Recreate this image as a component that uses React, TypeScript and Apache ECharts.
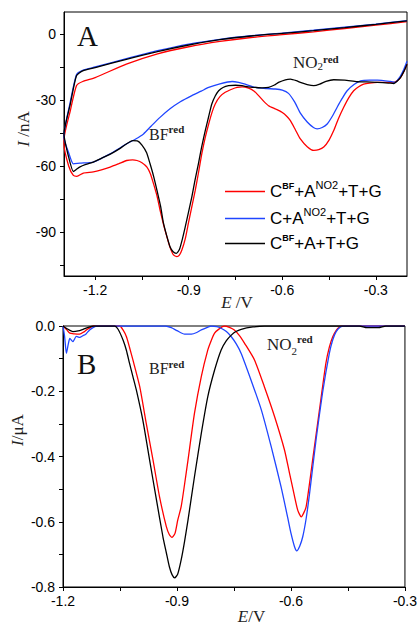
import React, { useEffect, useRef } from 'react';
import * as echarts from 'echarts';

const seriesNames = ['CBF+ANO2+T+G', 'C+ANO2+T+G', 'CBF+A+T+G'];
const seriesColors = ['#ff0000', '#1f45ff', '#000000'];

const aXLabels = [-1.2, -0.9, -0.6, -0.3];
const aXTicks = [-1.2, -1.05, -0.9, -0.75, -0.6, -0.45, -0.3];
const aYLabels = [-90, -60, -30, 0];
const aYTicks = [-105, -90, -75, -60, -45, -30, -15, 0];
const bXLabels = [-1.2, -0.9, -0.6, -0.3];
const bXTicks = [-1.2, -1.05, -0.9, -0.75, -0.6, -0.45, -0.3];
const bYLabels = [-0.8, -0.6, -0.4, -0.2, 0];
const bYTicks = [-0.8, -0.7, -0.6, -0.5, -0.4, -0.3, -0.2, -0.1, 0];

// Panel A (E / V, I / nA): scan from -0.2 to -1.3 (upper) then back (lower)
const aRed = [
  [-0.2, 5.6], [-0.3, 4.0], [-0.4, 2.5], [-0.5, 1.0], [-0.6, -0.3], [-0.7, -1.6], [-0.8, -3.4], [-0.9, -5.8],
  [-1.0, -9.0], [-1.1, -13.7], [-1.2, -19.8], [-1.24, -21.6], [-1.26, -23.5], [-1.28, -35], [-1.3, -48],
  [-1.3, -50], [-1.285, -60], [-1.27, -64.3], [-1.259, -64.7], [-1.238, -63.2], [-1.206, -62.7], [-1.18, -61.8],
  [-1.152, -60.5], [-1.125, -59], [-1.099, -57.5], [-1.08, -57.2], [-1.066, -57.5], [-1.05, -58.5], [-1.034, -60.5],
  [-1.023, -63.5], [-1.013, -68], [-1.002, -73.5], [-0.992, -80], [-0.981, -86.5], [-0.97, -92.2], [-0.96, -97],
  [-0.949, -100.4], [-0.938, -101.2], [-0.93, -100.5], [-0.922, -98.2], [-0.911, -93], [-0.901, -86], [-0.89, -78.5],
  [-0.879, -71], [-0.868, -62.5], [-0.858, -54.4], [-0.847, -47], [-0.836, -40.9], [-0.825, -35.5], [-0.815, -31.8],
  [-0.8, -28.5], [-0.783, -26.5], [-0.76, -25], [-0.745, -24.3], [-0.729, -24], [-0.708, -24.6], [-0.69, -26],
  [-0.676, -28], [-0.66, -30.5], [-0.644, -32.6], [-0.62, -34.2], [-0.601, -35.6], [-0.585, -37.5], [-0.574, -39.4],
  [-0.558, -43.5], [-0.542, -47.7], [-0.52, -51.2], [-0.499, -52.9], [-0.483, -52.6], [-0.467, -51.4], [-0.45, -48.2],
  [-0.435, -43.9], [-0.42, -38.5], [-0.403, -33.3], [-0.387, -29], [-0.371, -25.8], [-0.355, -24], [-0.339, -22.8],
  [-0.32, -22.3], [-0.295, -22], [-0.26, -22], [-0.242, -22], [-0.232, -21.3], [-0.221, -19.8], [-0.21, -17], [-0.2, -13.7],
];
const aBlue = [
  [-0.2, 6.1], [-0.3, 4.5], [-0.4, 3.1], [-0.5, 1.7], [-0.6, 0.4], [-0.7, -0.8], [-0.8, -2.4], [-0.9, -4.6],
  [-1.0, -7.6], [-1.1, -11.2], [-1.2, -15.0], [-1.24, -16.5], [-1.26, -18.5], [-1.28, -31], [-1.3, -46],
  [-1.3, -47], [-1.285, -54], [-1.27, -59], [-1.249, -58.7], [-1.206, -58.2], [-1.18, -56.5], [-1.152, -54.5],
  [-1.125, -52.2], [-1.099, -49.9], [-1.07, -47.7], [-1.045, -45.4], [-1.02, -41.8], [-0.992, -37.9], [-0.96, -34],
  [-0.927, -30.8], [-0.89, -28], [-0.86, -26], [-0.836, -24.3], [-0.8, -22.7], [-0.761, -21.6], [-0.74, -22],
  [-0.719, -22.8], [-0.686, -24.3], [-0.65, -24.8], [-0.622, -25], [-0.6, -25.5], [-0.58, -27], [-0.56, -31],
  [-0.542, -36], [-0.52, -40], [-0.5, -42.5], [-0.488, -43.1], [-0.472, -42.5], [-0.456, -40.9], [-0.44, -37.5],
  [-0.424, -33.3], [-0.408, -29.3], [-0.392, -25.8], [-0.37, -23], [-0.349, -21.3], [-0.32, -21], [-0.295, -21],
  [-0.253, -21.6], [-0.237, -22], [-0.228, -20.5], [-0.221, -19.1], [-0.21, -16], [-0.2, -12.4],
];
const aBlack = [
  [-0.2, 6.0], [-0.3, 4.4], [-0.4, 2.9], [-0.5, 1.5], [-0.6, 0.3], [-0.7, -0.9], [-0.8, -2.6], [-0.9, -5.0],
  [-1.0, -8.0], [-1.1, -11.5], [-1.2, -15.3], [-1.24, -16.8], [-1.26, -19], [-1.28, -32], [-1.3, -45.4],
  [-1.285, -56], [-1.27, -62.5], [-1.26, -61.5], [-1.25, -60.5], [-1.23, -59.3], [-1.206, -58.2], [-1.18, -56.5],
  [-1.15, -54.5], [-1.12, -52], [-1.1, -50], [-1.08, -48.5], [-1.065, -48.6], [-1.05, -50.5], [-1.035, -54],
  [-1.024, -59], [-1.013, -64.5], [-1.002, -71], [-0.99, -78.5], [-0.981, -86], [-0.97, -92], [-0.96, -96.7],
  [-0.95, -99], [-0.94, -99.7], [-0.93, -98], [-0.92, -93], [-0.911, -87.6], [-0.9, -80.5], [-0.89, -74],
  [-0.88, -66.5], [-0.869, -59], [-0.858, -51], [-0.847, -43.9], [-0.836, -37.5], [-0.826, -31.8], [-0.815, -28.2],
  [-0.804, -25.8], [-0.79, -24.3], [-0.772, -23.5], [-0.75, -23.3], [-0.729, -23.5], [-0.71, -24], [-0.686, -24.3],
  [-0.665, -24.5], [-0.644, -24.3], [-0.625, -23.2], [-0.612, -22], [-0.59, -20.8], [-0.574, -20.5], [-0.555, -21.2],
  [-0.542, -22], [-0.52, -23], [-0.499, -23.5], [-0.48, -22.8], [-0.46, -21.5], [-0.435, -20.8], [-0.4, -21],
  [-0.36, -21.7], [-0.33, -21.8], [-0.295, -22], [-0.26, -22.3], [-0.242, -22.5], [-0.232, -21.5], [-0.221, -19.8],
  [-0.21, -17], [-0.2, -13.7],
];

// Panel B (E / V, I / uA)
const bRed = [
  [-1.2, 0], [-1.19, -0.012], [-1.182, -0.022], [-1.17, -0.024], [-1.156, -0.025], [-1.145, -0.018], [-1.138, -0.012],
  [-1.12, 0], [-1.051, 0], [-1.042, -0.012], [-1.033, -0.033], [-1.025, -0.065], [-1.016, -0.104], [-0.998, -0.186],
  [-0.981, -0.298], [-0.963, -0.411], [-0.946, -0.523], [-0.928, -0.615], [-0.92, -0.64], [-0.913, -0.648],
  [-0.905, -0.635], [-0.898, -0.595], [-0.889, -0.554], [-0.88, -0.485], [-0.871, -0.411], [-0.854, -0.268],
  [-0.836, -0.155], [-0.819, -0.074], [-0.81, -0.045], [-0.801, -0.022], [-0.788, -0.008], [-0.775, 0],
  [-0.762, -0.004], [-0.749, -0.012], [-0.735, -0.03], [-0.722, -0.053], [-0.696, -0.104], [-0.67, -0.186],
  [-0.643, -0.278], [-0.617, -0.38], [-0.604, -0.45], [-0.591, -0.52], [-0.582, -0.565], [-0.573, -0.585],
  [-0.566, -0.572], [-0.56, -0.554], [-0.552, -0.49], [-0.543, -0.411], [-0.525, -0.257], [-0.508, -0.114],
  [-0.499, -0.065], [-0.49, -0.033], [-0.48, -0.012], [-0.473, -0.004], [-0.465, 0], [-0.3, 0],
];
const bBlue = [
  [-1.2, 0], [-1.196, -0.03], [-1.191, -0.084], [-1.186, -0.055], [-1.182, -0.038], [-1.174, -0.048],
  [-1.165, -0.032], [-1.156, -0.035], [-1.148, -0.03], [-1.14, -0.025], [-1.13, -0.012], [-1.12, -0.004],
  [-1.11, 0], [-0.93, 0], [-0.915, -0.005], [-0.9, -0.014], [-0.88, -0.025], [-0.862, -0.025], [-0.848, -0.02],
  [-0.836, -0.012], [-0.82, -0.004], [-0.81, 0], [-0.795, -0.002], [-0.784, -0.007], [-0.77, -0.017],
  [-0.757, -0.033], [-0.744, -0.055], [-0.731, -0.084], [-0.705, -0.166], [-0.678, -0.257], [-0.652, -0.37],
  [-0.626, -0.493], [-0.609, -0.585], [-0.6, -0.635], [-0.591, -0.675], [-0.585, -0.689], [-0.577, -0.675],
  [-0.569, -0.646], [-0.56, -0.59], [-0.551, -0.513], [-0.534, -0.349], [-0.517, -0.206], [-0.499, -0.084],
  [-0.49, -0.042], [-0.481, -0.017], [-0.47, -0.003], [-0.46, 0], [-0.3, 0],
];
const bBlack = [
  [-1.2, 0], [-1.19, -0.008], [-1.174, -0.017], [-1.16, -0.015], [-1.147, -0.01], [-1.13, -0.003], [-1.12, 0],
  [-1.064, 0], [-1.055, -0.01], [-1.042, -0.043], [-1.033, -0.075], [-1.025, -0.114], [-1.016, -0.155],
  [-1.007, -0.196], [-0.99, -0.288], [-0.972, -0.411], [-0.954, -0.533], [-0.937, -0.646], [-0.928, -0.695],
  [-0.92, -0.738], [-0.913, -0.762], [-0.906, -0.772], [-0.898, -0.76], [-0.889, -0.717], [-0.88, -0.66],
  [-0.871, -0.595], [-0.854, -0.462], [-0.836, -0.329], [-0.819, -0.217], [-0.801, -0.135], [-0.784, -0.074],
  [-0.77, -0.045], [-0.757, -0.028], [-0.745, -0.017], [-0.731, -0.01], [-0.7, -0.003], [-0.67, 0],
  [-0.42, 0], [-0.4, -0.005], [-0.37, -0.005], [-0.35, 0], [-0.3, 0],
];

const SANS = '"Liberation Sans", Arial, sans-serif';
const SERIF = '"Liberation Serif", "Times New Roman", serif';

const legendRich: Record<string, string> = {
  'CBF+ANO2+T+G': '{n|C}{b|BF}{n|+A}{s|NO2}{n|+T+G}',
  'C+ANO2+T+G': '{n|C+A}{s|NO2}{n|+T+G}',
  'CBF+A+T+G': '{n|C}{b|BF}{n|+A+T+G}',
};

function xAxisCfg(grid: number, min: number, max: number, ticks: number[], labels: number[]) {
  return {
    type: 'value', gridIndex: grid, min, max,
    axisLine: { show: true, onZero: false, lineStyle: { color: '#000', width: 1 } },
    axisTick: { show: true, inside: false, length: 4, customValues: ticks, lineStyle: { color: '#000' } },
    axisLabel: {
      customValues: labels, margin: 7, fontSize: 14, fontFamily: SANS, color: '#000',
      formatter: (v: number) => v.toFixed(1),
    },
    splitLine: { show: false },
  };
}
function yAxisCfg(grid: number, min: number, max: number, ticks: number[], labels: number[], fmt: (v: number) => string) {
  return {
    type: 'value', gridIndex: grid, min, max,
    axisLine: { show: true, onZero: false, lineStyle: { color: '#000', width: 1 } },
    axisTick: { show: true, inside: false, length: 4, customValues: ticks, lineStyle: { color: '#000' } },
    axisLabel: { customValues: labels, margin: 8, fontSize: 14, fontFamily: SANS, color: '#000', formatter: fmt },
    splitLine: { show: false },
  };
}

function lineSeries(name: string, color: string, data: number[][], idx: number) {
  return {
    type: 'line', name, data, xAxisIndex: idx, yAxisIndex: idx,
    showSymbol: false, symbol: 'none', smooth: 0.2, clip: true,
    lineStyle: { color, width: 1.3 }, itemStyle: { color },
  };
}

export default function App() {
  const ref = useRef<HTMLDivElement>(null);
  useEffect(() => {
    if (!ref.current) return;
    const chart = echarts.init(ref.current, undefined, { renderer: 'svg' });
    chart.setOption({
      animation: false,
      backgroundColor: '#fff',
      grid: [
        { left: 64, top: 12, width: 343, height: 264, show: true, borderColor: '#000', borderWidth: 1, backgroundColor: 'transparent' },
        { left: 63, top: 326, width: 343, height: 261, show: true, borderColor: '#000', borderWidth: 1, backgroundColor: 'transparent' },
      ],
      xAxis: [
        xAxisCfg(0, -1.3, -0.2, aXTicks, aXLabels),
        xAxisCfg(1, -1.2, -0.3, bXTicks, bXLabels),
      ],
      yAxis: [
        yAxisCfg(0, -110, 10, aYTicks, aYLabels, (v: number) => String(Math.round(v))),
        yAxisCfg(1, -0.8, 0, bYTicks, bYLabels, (v: number) => v.toFixed(1)),
      ],
      legend: {
        data: seriesNames.map((n) => ({ name: n, icon: 'rect' })),
        orient: 'vertical', left: 225, top: 179, padding: 0,
        itemWidth: 40, itemHeight: 1.4, itemGap: 6,
        formatter: (name: string) => legendRich[name] || name,
        textStyle: {
          fontFamily: SANS, fontSize: 17, color: '#000',
          rich: {
            n: { fontFamily: SANS, fontSize: 17, lineHeight: 20, color: '#000' },
            b: { fontFamily: SANS, fontSize: 9, fontWeight: 'bold', lineHeight: 20, height: 8, verticalAlign: 'top', color: '#000' },
            s: { fontFamily: SANS, fontSize: 11, lineHeight: 20, height: 6, verticalAlign: 'top', color: '#000' },
          },
        },
      },
      graphic: [
        { type: 'text', x: 77, y: 35.5, style: { text: 'A', fontFamily: SERIF, fontSize: 29, fill: '#111', align: 'left', verticalAlign: 'middle' } },
        { type: 'text', x: 77, y: 364, style: { text: 'B', fontFamily: SERIF, fontSize: 29, fill: '#111', align: 'left', verticalAlign: 'middle' } },
        {
          type: 'text', x: 149, y: 124.5,
          style: {
            text: '{m|BF}{p|red}', align: 'left', verticalAlign: 'top',
            rich: { m: { fontFamily: SERIF, fontSize: 16, fill: '#222', lineHeight: 20 }, p: { fontFamily: SERIF, fontSize: 11, fontWeight: 'bold', fill: '#222', lineHeight: 20, height: 8, verticalAlign: 'top' } },
          },
        },
        {
          type: 'text', x: 149, y: 358.5,
          style: {
            text: '{m|BF}{p|red}', align: 'left', verticalAlign: 'top',
            rich: { m: { fontFamily: SERIF, fontSize: 16, fill: '#222', lineHeight: 20 }, p: { fontFamily: SERIF, fontSize: 11, fontWeight: 'bold', fill: '#222', lineHeight: 20, height: 10.8, verticalAlign: 'top' } },
          },
        },
        {
          type: 'text', x: 293, y: 52.5,
          style: {
            text: '{m|NO}{d|2}{p|red}', align: 'left', verticalAlign: 'top',
            rich: {
              m: { fontFamily: SERIF, fontSize: 17, fill: '#222', lineHeight: 20 },
              d: { fontFamily: SERIF, fontSize: 11, fill: '#222', lineHeight: 20, height: 12.4, verticalAlign: 'bottom' },
              p: { fontFamily: SERIF, fontSize: 11, fontWeight: 'bold', fill: '#222', lineHeight: 20, height: 13.4, verticalAlign: 'top' },
            },
          },
        },
        {
          type: 'text', x: 267, y: 334.2,
          style: {
            text: '{m|NO}{d|2}{p|red}', align: 'left', verticalAlign: 'top',
            rich: {
              m: { fontFamily: SERIF, fontSize: 17, fill: '#222', lineHeight: 20 },
              d: { fontFamily: SERIF, fontSize: 11, fill: '#222', lineHeight: 20, height: 6, verticalAlign: 'bottom' },
              p: { fontFamily: SERIF, fontSize: 11, fontWeight: 'bold', fill: '#222', lineHeight: 20, height: 9.4, verticalAlign: 'top' },
            },
          },
        },
        {
          type: 'text', x: 237, y: 302.5,
          style: {
            text: '{i|E}{m| /V}', align: 'center', verticalAlign: 'middle',
            rich: { i: { fontFamily: SERIF, fontSize: 17, fontStyle: 'italic', fill: '#222' }, m: { fontFamily: SERIF, fontSize: 17, fill: '#222' } },
          },
        },
        {
          type: 'text', x: 251.5, y: 616,
          style: {
            text: '{i|E}{m|/V}', align: 'center', verticalAlign: 'middle',
            rich: { i: { fontFamily: SERIF, fontSize: 17, fontStyle: 'italic', fill: '#222' }, m: { fontFamily: SERIF, fontSize: 17, fill: '#222' } },
          },
        },
        {
          type: 'text', x: 23, y: 129, rotation: Math.PI / 2,
          style: {
            text: '{i|I}{m| /nA}', align: 'center', verticalAlign: 'middle',
            rich: { i: { fontFamily: SERIF, fontSize: 17, fontStyle: 'italic', fill: '#222' }, m: { fontFamily: SERIF, fontSize: 17, fill: '#222' } },
          },
        },
        {
          type: 'text', x: 17, y: 430, rotation: Math.PI / 2,
          style: {
            text: '{i|I}{m|/μA}', align: 'center', verticalAlign: 'middle',
            rich: { i: { fontFamily: SERIF, fontSize: 17, fontStyle: 'italic', fill: '#222' }, m: { fontFamily: SERIF, fontSize: 17, fill: '#222' } },
          },
        },
      ],
      series: [
        lineSeries(seriesNames[0], seriesColors[0], aRed, 0),
        lineSeries(seriesNames[1], seriesColors[1], aBlue, 0),
        lineSeries(seriesNames[2], seriesColors[2], aBlack, 0),
        lineSeries(seriesNames[0], seriesColors[0], bRed, 1),
        lineSeries(seriesNames[1], seriesColors[1], bBlue, 1),
        lineSeries(seriesNames[2], seriesColors[2], bBlack, 1),
      ],
    });
    return () => chart.dispose();
  }, []);
  return <div ref={ref} style={{ position: 'fixed', left: 0, top: 0, width: 420, height: 624 }} />;
}
